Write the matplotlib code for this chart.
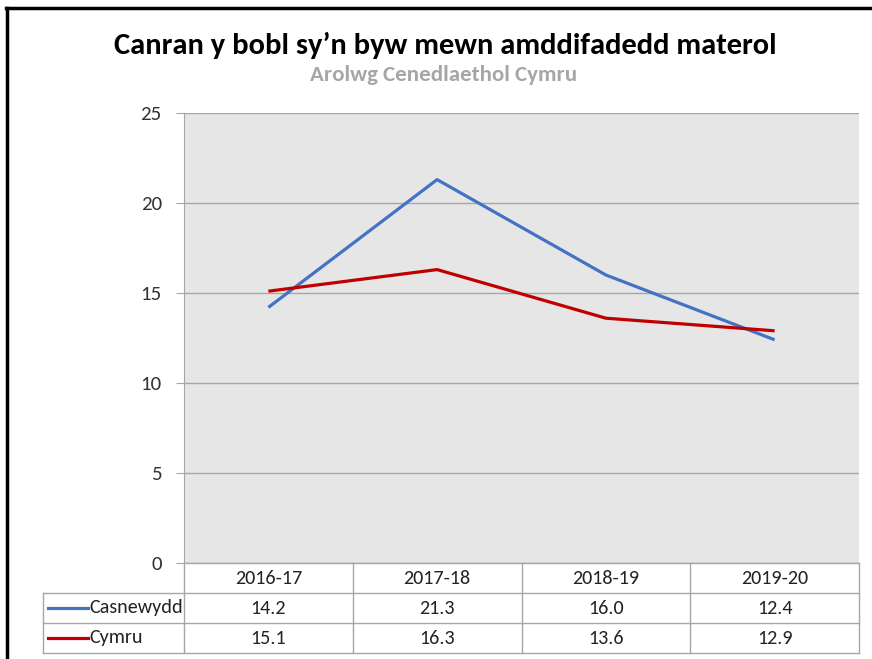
import matplotlib
matplotlib.use("Agg")
import matplotlib.pyplot as plt
from matplotlib.lines import Line2D
import matplotlib.font_manager as fm

categories = ["2016-17", "2017-18", "2018-19", "2019-20"]
casnewydd = [14.2, 21.3, 16.0, 12.4]
cymru = [15.1, 16.3, 13.6, 12.9]
series_names = ["Casnewydd", "Cymru"]
series_values = [casnewydd, cymru]
series_colors = ["#4472C4", "#C00000"]
yticks = [0, 5, 10, 15, 20, 25]

avail = {f.name for f in fm.fontManager.ttflist}
fam = [f for f in ["Carlito", "Liberation Sans Narrow", "Open Sans", "DejaVu Sans"] if f in avail]
plt.rcParams['font.family'] = fam

W, H = 872, 659
fig = plt.figure(figsize=(W / 100, H / 100), dpi=100)

def fx(px):
    return px / W

def fy(py):
    return 1 - py / H

L, R, T, B = 184, 859, 113, 563
ax = fig.add_axes([fx(L), fy(B), fx(R - L), (B - T) / H])
ax.set_facecolor("#E6E6E6")
x = list(range(len(categories)))
for vals, col, name in zip(series_values, series_colors, series_names):
    ax.plot(x, vals, color=col, lw=2.3, solid_capstyle='butt', zorder=3, label=name)
ax.set_xlim(-0.5, len(categories) - 0.5)
ax.set_ylim(0, 25)
ax.set_yticks(yticks)
ax.set_yticklabels([str(v) for v in yticks], fontsize=15, color="#333333")
ax.set_xticks([])
ax.yaxis.grid(True, color="#A6A6A6", lw=1)
ax.set_axisbelow(True)
for s in ["top", "right", "bottom"]:
    ax.spines[s].set_visible(False)
ax.spines["left"].set_color("#A6A6A6")
ax.tick_params(axis='y', length=6, color="#A6A6A6", pad=10)

# table
lc = "#A6A6A6"
def hline(y, x0, x1):
    fig.add_artist(Line2D([fx(x0), fx(x1)], [fy(y), fy(y)], color=lc, lw=1))
def vline(xp, y0, y1):
    fig.add_artist(Line2D([fx(xp), fx(xp)], [fy(y0), fy(y1)], color=lc, lw=1))

TL = 43
rows = [563, 593, 623, 653]
colw = (R - L) / len(categories)
cols = [L + i * colw for i in range(len(categories) + 1)]
hline(rows[0], L, R)
for r in rows[1:]:
    hline(r, TL, R)
for c in cols:
    vline(c, rows[0], rows[-1])
vline(TL, rows[1], rows[-1])

fs = 14.5
for i, cat in enumerate(categories):
    fig.text(fx(L + (i + 0.5) * colw), fy((rows[0] + rows[1]) / 2), cat,
             ha='center', va='center', fontsize=fs, color="#222222")
for j, (name, vals, col) in enumerate(zip(series_names, series_values, series_colors)):
    yc = (rows[j + 1] + rows[j + 2]) / 2
    fig.add_artist(Line2D([fx(48), fx(88)], [fy(yc), fy(yc)], color=col, lw=2.3))
    fig.text(fx(89), fy(yc), name, ha='left', va='center', fontsize=fs, color="#222222")
    for i, v in enumerate(vals):
        fig.text(fx(L + (i + 0.5) * colw), fy(yc), f"{v:.1f}",
                 ha='center', va='center', fontsize=fs, color="#222222")

# titles
fig.text(fx(445), fy(45), "Canran y bobl sy\u2019n byw mewn amddifadedd materol",
         ha='center', va='center', fontsize=22, fontweight='bold', color="#000000")
fig.text(fx(444), fy(75), "Arolwg Cenedlaethol Cymru", ha='center', va='center',
         fontsize=16.5, fontweight='bold', color="#A6A6A6")

# frame
fig.add_artist(Line2D([fx(7), fx(7)], [fy(8), 0], color='black', lw=2.5))
fig.add_artist(Line2D([fx(6), 1], [fy(8), fy(8)], color='black', lw=2.5))

fig.savefig("out.png", dpi=100)
